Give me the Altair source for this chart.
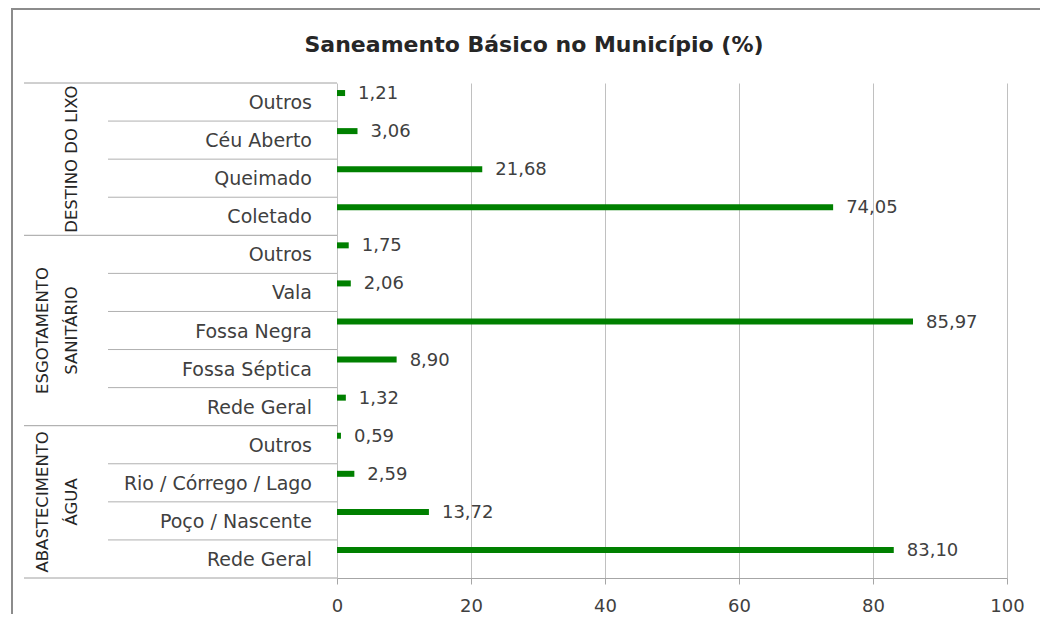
import altair as alt
import pandas as pd

FONT = "DejaVu Sans"

title_text = "Saneamento Básico no Município (%)"
group_names = ["DESTINO DO LIXO", "ESGOTAMENTO\nSANITÁRIO", "ABASTECIMENTO\nÁGUA"]

lixo_cats = ["Outros", "Céu Aberto", "Queimado", "Coletado"]
lixo_vals = [1.21, 3.06, 21.68, 74.05]

esg_cats = ["Outros", "Vala", "Fossa Negra", "Fossa Séptica", "Rede Geral"]
esg_vals = [1.75, 2.06, 85.97, 8.90, 1.32]

agua_cats = ["Outros", "Rio / Córrego / Lago", "Poço / Nascente", "Rede Geral"]
agua_vals = [0.59, 2.59, 13.72, 83.10]

x_ticks = [0, 20, 40, 60, 80, 100]

rows, inner_rows, outer_rows, first_rows, last_rows = [], [], [], [], []
pos = 0
for gname, cats, vals in zip(group_names, [lixo_cats, esg_cats, agua_cats],
                             [lixo_vals, esg_vals, agua_vals]):
    first = pos
    outer_rows.append({"bpos": pos})
    for i, (c, v) in enumerate(zip(cats, vals)):
        rows.append({"cat": c, "val": v, "start": 0,
                     "label": f"{v:.2f}".replace(".", ","), "pos": pos + 0.5})
        if i > 0:
            inner_rows.append({"bpos": pos})
        pos += 1
    parts = gname.split("\n")
    gpos = (first + pos) / 2
    last_rows.append({"gline": parts[-1], "gpos": gpos})
    if len(parts) > 1:
        first_rows.append({"gline": parts[0], "gpos": gpos})
outer_rows.append({"bpos": pos})
n_rows = pos

df = pd.DataFrame(rows)
inner_df = pd.DataFrame(inner_rows)
outer_df = pd.DataFrame(outer_rows)
first_df = pd.DataFrame(first_rows)
last_df = pd.DataFrame(last_rows)
one_df = pd.DataFrame({"k": [0]})
title_df = pd.DataFrame({"t": [title_text]})

W, H = 670, 495
PAD = {"left": 329, "top": 75, "right": 33, "bottom": 36}

x_scale = alt.Scale(domain=[0, 100], nice=False)
y_scale = alt.Scale(domain=[0, n_rows], reverse=True, nice=False, zero=False)

x_axis = alt.Axis(values=x_ticks, grid=True, gridColor="#c0c0c0",
                  domainColor="#a6a6a6", tickColor="#a6a6a6", tickSize=6,
                  labelFont=FONT, labelFontSize=18, labelColor="#404040",
                  labelPadding=13, labelFlush=False, title=None)


def xq(field):
    return alt.X(field, type="quantitative", scale=x_scale, axis=x_axis)


def yq(field):
    return alt.Y(field, type="quantitative", scale=y_scale, axis=None)


base = alt.Chart(df)

bars = base.mark_rule(color="#008000", strokeWidth=6, yOffset=-9).encode(
    x=xq("start"),
    x2=alt.X2("val"),
    y=yq("pos"),
)

values = base.mark_text(align="left", baseline="middle", dx=13, dy=-8,
                        font=FONT, fontSize=18, color="#404040").encode(
    x=xq("val"),
    y=yq("pos"),
    text="label:N",
)

cat_labels = base.mark_text(align="right", baseline="middle", dx=-25, dy=1,
                            font=FONT, fontSize=19, color="#404040").encode(
    x=xq("start"),
    y=yq("pos"),
    text="cat:N",
)

group_last = alt.Chart(last_df).mark_text(
    angle=270, align="center", baseline="bottom",
    font=FONT, fontSize=16.5, color="#262626").encode(
    x=alt.value(-257),
    y=yq("gpos"),
    text="gline:N",
)

group_first = alt.Chart(first_df).mark_text(
    angle=270, align="center", baseline="bottom",
    font=FONT, fontSize=16.5, color="#262626").encode(
    x=alt.value(-286),
    y=yq("gpos"),
    text="gline:N",
)

inner_sep = alt.Chart(inner_df).mark_rule(color="#b0b0b0", strokeWidth=1).encode(
    x=alt.value(-229), x2=alt.value(0), y=yq("bpos"))

outer_sep = alt.Chart(outer_df).mark_rule(color="#a0a0a0", strokeWidth=1).encode(
    x=alt.value(-313), x2=alt.value(0), y=yq("bpos"))

border_left = alt.Chart(one_df).mark_rule(color="#8c8c8c", strokeWidth=2).encode(
    x=alt.value(-325), y=alt.value(-74), y2=alt.value(H + PAD["bottom"]))
border_top = alt.Chart(one_df).mark_rule(color="#8c8c8c", strokeWidth=2).encode(
    x=alt.value(-326), x2=alt.value(W + PAD["right"]), y=alt.value(-74))

title_mark = alt.Chart(title_df).mark_text(
    align="center", baseline="alphabetic", font=FONT, fontSize=22,
    fontWeight="bold", color="#262626").encode(
    x=alt.value(197), y=alt.value(-31), text="t:N")

chart = alt.layer(
    bars, values, cat_labels, group_last, group_first, inner_sep, outer_sep,
    border_left, border_top, title_mark,
).properties(
    width=W, height=H,
    padding=PAD,
    autosize=alt.AutoSizeParams(type="none"),
).configure_view(stroke=None)

chart.save("out.html", embed_options={"renderer": "svg", "actions": False})
